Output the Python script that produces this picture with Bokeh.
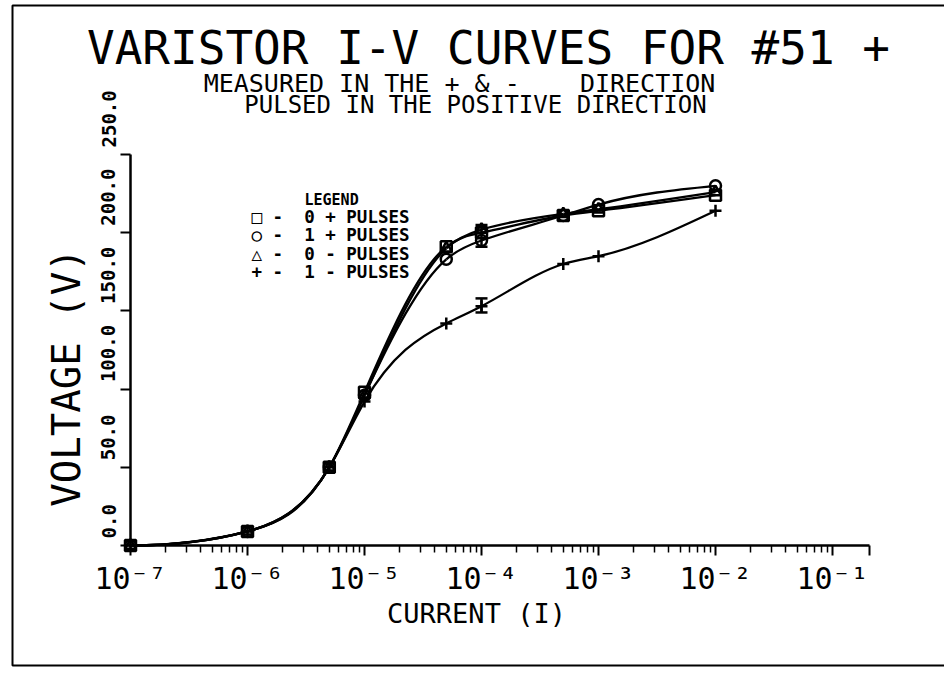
import numpy as np
from bokeh.plotting import figure
from bokeh.models import (FixedTicker, CustomJSTickFormatter, Label, LabelSet, BoxAnnotation,
                          ColumnDataSource, Whisker, TeeHead)
from bokeh.core.properties import value
from bokeh.embed import file_html
from bokeh.resources import INLINE

# ---------------- data ----------------
current = [1e-7, 1e-6, 5e-6, 1e-5, 5e-5, 1e-4, 5e-4, 1e-3, 1e-2]
v_0_pos = [0, 9, 50, 98, 191, 200, 211, 214, 224]   # square  : 0 + pulses
v_1_pos = [0, 9, 50, 96, 183, 195, 211, 218, 230]   # circle  : 1 + pulses
v_0_neg = [0, 9, 50, 96, 190, 202, 212, 215, 226]   # triangle: 0 - pulses
v_1_neg = [0, 9, 50, 92, 142, 153, 180, 185, 214]   # plus    : 1 - pulses

err_current = [1e-4, 1e-4]
err_low = [191, 149]
err_high = [205, 158]

y_ticks = [0, 50, 100, 150, 200, 250]
y_tick_labels = ["0.0", "50.0", "100.0", "150.0", "200.0", "250.0"]
x_decades = [-7, -6, -5, -4, -3, -2, -1]

legend_title = "LEGEND"
legend_labels = ["\u25a1 -\u00a0\u00a00 + PULSES", "\u25cb -\u00a0\u00a01 + PULSES",
                 "\u25b3 -\u00a0\u00a00 - PULSES", "+ -\u00a0\u00a01 - PULSES"]

title_text = "VARISTOR I-V CURVES FOR #51 +"
sub1_text = "MEASURED IN THE + & -\u00a0\u00a0\u00a0\u00a0DIRECTION"
sub2_text = "PULSED IN THE POSITIVE DIRECTION"

FONT = "DejaVu Sans Mono"

# ---------------- layout (pixels) ----------------
W, H = 944, 673
X0, DEC = 130.0, 117.0      # pixel of 1e-7, pixels per decade
Y0, PXV = 545.0, 1.564      # pixel of 0 V, pixels per volt
X_AXIS_END = 869.0


def spline_bezier(xs, ys):
    """cubic spline in (log10 x, y), flat start, natural end -> bezier segments"""
    t = np.log10(np.asarray(xs, float))
    y = np.asarray(ys, float)
    n = len(t)
    h = np.diff(t)
    A = np.zeros((n, n))
    b = np.zeros(n)
    A[0, 0] = 2 * h[0]
    A[0, 1] = h[0]
    b[0] = 6 * ((y[1] - y[0]) / h[0] - 0.0)
    A[-1, -1] = 1.0
    for i in range(1, n - 1):
        A[i, i - 1] = h[i - 1]
        A[i, i] = 2 * (h[i - 1] + h[i])
        A[i, i + 1] = h[i]
        b[i] = 6 * ((y[i + 1] - y[i]) / h[i] - (y[i] - y[i - 1]) / h[i - 1])
    M = np.linalg.solve(A, b)
    slope = (y[1:] - y[:-1]) / h
    d0 = slope - h * (2 * M[:-1] + M[1:]) / 6
    d1 = slope + h * (M[:-1] + 2 * M[1:]) / 6
    return dict(x0=10 ** t[:-1], y0=y[:-1], x1=10 ** t[1:], y1=y[1:],
                cx0=10 ** (t[:-1] + h / 3), cy0=y[:-1] + h / 3 * d0,
                cx1=10 ** (t[1:] - h / 3), cy1=y[1:] - h / 3 * d1)


lg0 = np.log10(current[0])
x_range = (10 ** (lg0 - X0 / DEC), 10 ** (lg0 + (W - X0) / DEC))
y_range = (-(H - Y0) / PXV, Y0 / PXV)
x_end = 10 ** (lg0 + (X_AXIS_END - X0) / DEC)

p = figure(width=W, height=H, x_axis_type="log", x_range=x_range, y_range=y_range,
           output_backend="svg", toolbar_location=None,
           min_border_left=0, min_border_right=0, min_border_top=0, min_border_bottom=0)
p.grid.visible = False
p.outline_line_color = None
p.background_fill_color = "white"
p.border_fill_color = "white"

# page frame
p.add_layout(BoxAnnotation(left=12, right=W + 20, bottom=H - 665, top=H - 5,
                           left_units="screen", right_units="screen",
                           bottom_units="screen", top_units="screen",
                           fill_color=None, line_color="black", line_alpha=1.0, line_width=2))

# axes
major = [10.0 ** d for d in x_decades] + [x_end]
minor = [k * 10.0 ** d for d in x_decades[:-1] for k in range(2, 10)]
xa = p.xaxis[0]
xa.fixed_location = y_ticks[0]
xa.bounds = (current[0], x_end)
xa.ticker = FixedTicker(ticks=major, minor_ticks=minor)
xa.formatter = CustomJSTickFormatter(code="""
    const lg = Math.log10(tick);
    const e = Math.round(lg);
    if (Math.abs(lg - e) > 0.01) { return ""; }
    const sup = {"-": "\u207b", "0": "\u2070", "1": "\u00b9", "2": "\u00b2", "3": "\u00b3",
                 "4": "\u2074", "5": "\u2075", "6": "\u2076", "7": "\u2077", "8": "\u2078", "9": "\u2079"};
    return "10" + String(e).split("").map(c => sup[c]).join("");
""")
xa.major_label_text_font = FONT
xa.major_label_text_font_size = "30px"
xa.major_label_text_color = "black"
xa.major_label_standoff = 5
xa.major_tick_in = 0
xa.major_tick_out = 10
xa.minor_tick_in = 0
xa.minor_tick_out = 7
xa.axis_line_width = 2.5
xa.major_tick_line_width = 2
xa.minor_tick_line_width = 1.5

ya = p.yaxis[0]
ya.fixed_location = current[0]
ya.bounds = (y_ticks[0], y_ticks[-1])
ya.ticker = FixedTicker(ticks=y_ticks)
ya.formatter = CustomJSTickFormatter(code="return '';")
ya.major_tick_in = 0
ya.major_tick_out = 10
ya.minor_tick_line_color = None
ya.axis_line_width = 2.5
ya.major_tick_line_width = 2

# y tick labels (rotated, starting just above each tick)
ysrc = ColumnDataSource(dict(x=[current[0]] * len(y_ticks), y=y_ticks, t=y_tick_labels))
p.add_layout(LabelSet(x="x", y="y", text="t", source=ysrc, angle=np.pi / 2,
                      x_offset=-15, y_offset=7, text_align="left", text_baseline="bottom",
                      text_font=value(FONT), text_font_size="19px", text_font_style="bold",
                      text_color="black"))

# curves
series = [(v_0_pos, "square"), (v_1_pos, "circle"), (v_0_neg, "triangle"), (v_1_neg, "cross")]
for vals, mk in series:
    src = ColumnDataSource(spline_bezier(current, vals))
    p.bezier(x0="x0", y0="y0", x1="x1", y1="y1", cx0="cx0", cy0="cy0", cx1="cx1", cy1="cy1",
             source=src, line_color="black", line_width=2.3)
for vals, mk in series:
    p.scatter(current, vals, marker=mk, size=11 if mk != "cross" else 12,
              line_color="black", line_width=2.5, fill_color=None)

# error bars
esrc = ColumnDataSource(dict(x=err_current, lo=err_low, hi=err_high))
p.add_layout(Whisker(base="x", lower="lo", upper="hi", source=esrc, dimension="height",
                     line_width=2.5, line_color="black",
                     upper_head=TeeHead(size=12, line_width=2.5),
                     lower_head=TeeHead(size=12, line_width=2.5)))


# texts
def add_text(txt, px, py, size, angle=0.0, align="center", style="normal"):
    p.add_layout(Label(x=px, y=H - py, x_units="screen", y_units="screen", text=txt,
                       angle=angle, text_align=align, text_baseline="middle",
                       text_font=FONT, text_font_size=size, text_font_style=style,
                       text_color="black"))


# legend block
add_text(legend_title, 304, 199, "15px", align="left", style="bold")
for i, lab in enumerate(legend_labels):
    add_text(lab, 251, 216.5 + 18.4 * i, "17.5px", align="left", style="bold")

add_text(title_text, 488, 47, "46px")
add_text(sub1_text, 459, 83, "25px")
add_text(sub2_text, 475, 104, "24px")
add_text("VOLTAGE (V)", 66, 377, "39px", angle=np.pi / 2)
add_text("CURRENT (I)", 476, 613, "27px")

open("out.html", "w").write(file_html(p, INLINE))
